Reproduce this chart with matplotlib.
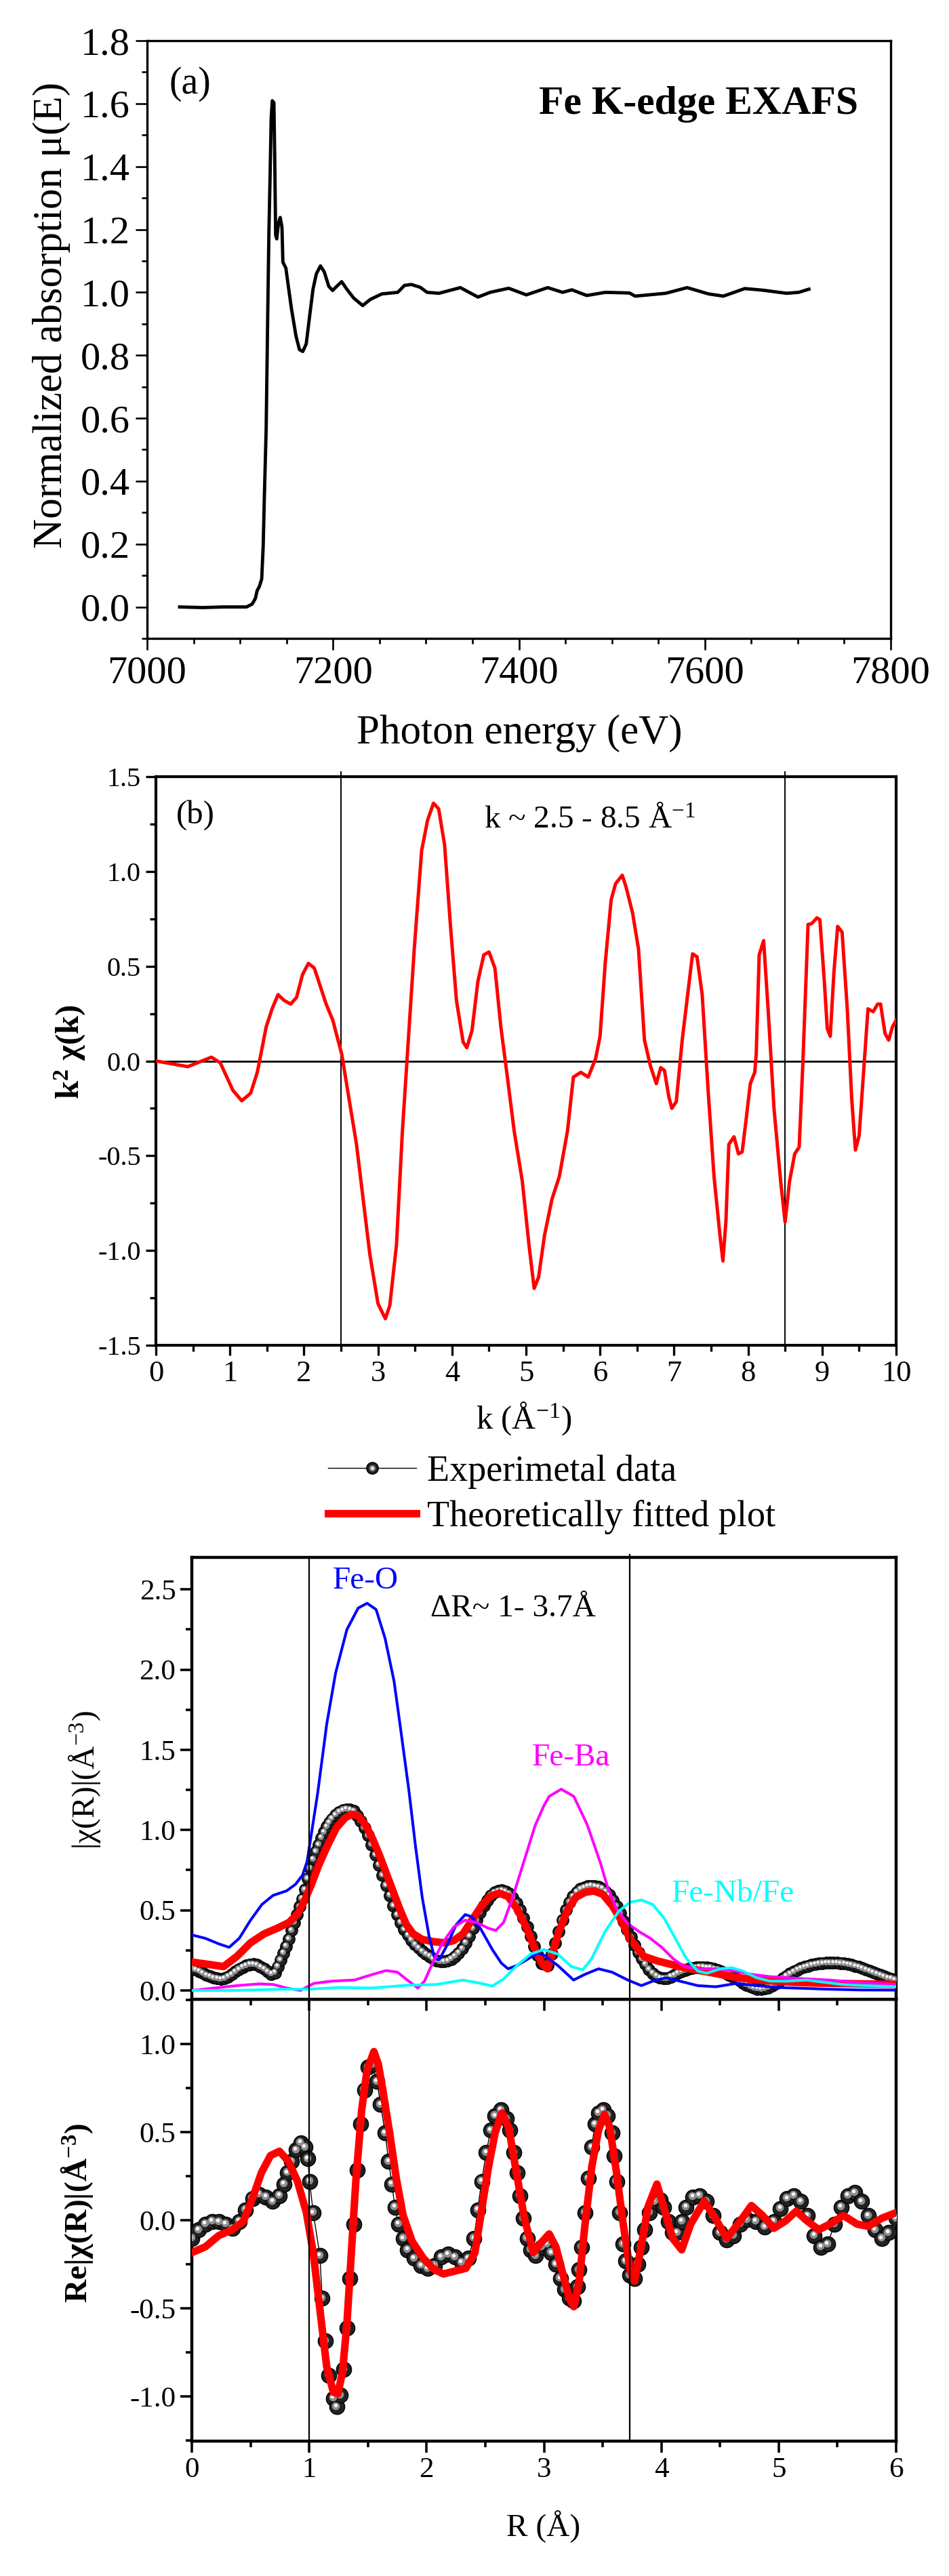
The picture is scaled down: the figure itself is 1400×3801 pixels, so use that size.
import numpy as np
import matplotlib
matplotlib.use('Agg')
from matplotlib import pyplot as plt
from matplotlib import transforms
from matplotlib.ticker import MultipleLocator, FormatStrFormatter
from matplotlib.legend_handler import HandlerTuple

plt.rcParams['font.family'] = ['Liberation Serif', 'DejaVu Serif']
plt.rcParams['mathtext.fontset'] = 'custom'
plt.rcParams['mathtext.rm'] = 'Liberation Serif'
plt.rcParams['mathtext.it'] = 'Liberation Serif:italic'
plt.rcParams['mathtext.bf'] = 'Liberation Serif:bold'
plt.rcParams['axes.unicode_minus'] = False

# ---------------- (a) normalized absorption ----------------
energy = [7035, 7060, 7082, 7107, 7113, 7116.5, 7118.4, 7120.8, 7123.3, 7124.9,
          7126.2, 7128.1, 7129.8, 7131.0, 7132.3, 7133.5, 7134.7, 7136.4, 7137.3,
          7138.3, 7139.5, 7141.3, 7143.2, 7145.1, 7146.1, 7149.3, 7152.4, 7155.3,
          7160.2, 7163.9, 7167.5, 7171.2, 7174.8, 7178.5, 7182.1, 7186.5, 7190.6,
          7195.5, 7199.6, 7204, 7209.3, 7214.9, 7222.2, 7231.9, 7240.4, 7252.6,
          7269.6, 7276.9, 7284.2, 7293.9, 7301.2, 7314, 7337, 7356, 7369, 7389,
          7408, 7431, 7447, 7457, 7473, 7493, 7519, 7525, 7558, 7581, 7604, 7620,
          7643, 7662, 7688, 7701, 7712]
mu = [0.0, -0.002, 0.0, 0.0, 0.009, 0.027, 0.052, 0.065, 0.089, 0.194,
      0.355, 0.565, 0.935, 1.182, 1.368, 1.553, 1.609, 1.603, 1.43,
      1.182, 1.17, 1.22, 1.238, 1.207, 1.096, 1.077, 1.01, 0.948,
      0.861, 0.818, 0.812, 0.836, 0.923, 1.01, 1.059, 1.084, 1.065,
      1.019, 1.006, 1.019, 1.034, 1.01, 0.982, 0.958, 0.978, 0.995,
      1.0, 1.022, 1.025, 1.016, 1.0, 0.997, 1.015, 0.985, 1.0, 1.013,
      0.992, 1.015, 1.0, 1.008, 0.99, 1.0, 0.998, 0.988, 0.997, 1.015, 0.995, 0.988,
      1.012, 1.007, 0.997, 1.0, 1.01]

# ---------------- (b) k^2 chi(k) ----------------
k = [0, 0.43, 0.75, 0.87, 1.04, 1.16, 1.28, 1.37, 1.49, 1.57, 1.65, 1.73, 1.82,
     1.9, 1.98, 2.06, 2.14, 2.22, 2.3, 2.39, 2.51, 2.59, 2.71, 2.8, 2.89, 3.0,
     3.1, 3.16, 3.25, 3.33, 3.41, 3.49, 3.59, 3.67, 3.75, 3.82, 3.9, 3.98, 4.06,
     4.15, 4.2, 4.27, 4.35, 4.43, 4.5, 4.58, 4.66, 4.74, 4.84, 4.95, 5.04, 5.11,
     5.17, 5.25, 5.35, 5.45, 5.56, 5.64, 5.74, 5.84, 5.94, 6.0, 6.07, 6.15, 6.21,
     6.3, 6.35, 6.44, 6.52, 6.6, 6.68, 6.76, 6.82, 6.87, 6.93, 6.97, 7.03, 7.11,
     7.19, 7.25, 7.31, 7.38, 7.46, 7.54, 7.62, 7.66, 7.7, 7.74, 7.81, 7.87, 7.92,
     7.97, 8.03, 8.09, 8.11, 8.15, 8.21, 8.27, 8.35, 8.44, 8.5, 8.56, 8.63, 8.69,
     8.74, 8.81, 8.86, 8.93, 8.97, 9.03, 9.07, 9.11, 9.16, 9.21, 9.27, 9.34, 9.4,
     9.45, 9.5, 9.56, 9.62, 9.69, 9.75, 9.79, 9.85, 9.9, 9.95, 10.0]
k2chi = [0, -0.03, 0.02, -0.01, -0.155, -0.21, -0.17, -0.06, 0.18, 0.275, 0.35,
         0.32, 0.30, 0.335, 0.455, 0.515, 0.49, 0.395, 0.30, 0.215, 0.036, -0.155,
         -0.44, -0.73, -1.02, -1.28, -1.36, -1.29, -0.97, -0.37, 0.11, 0.59, 1.11,
         1.27, 1.36, 1.33, 1.14, 0.71, 0.32, 0.1, 0.07, 0.16, 0.42, 0.56, 0.575,
         0.49, 0.18, -0.06, -0.37, -0.635, -0.97, -1.2, -1.14, -0.92, -0.73, -0.61,
         -0.37, -0.085, -0.06, -0.085, 0.012, 0.13, 0.515, 0.85, 0.935, 0.98, 0.92,
         0.78, 0.59, 0.11, -0.025, -0.12, -0.035, -0.05, -0.19, -0.25, -0.215, 0.11,
         0.37, 0.565, 0.55, 0.35, -0.155, -0.61, -0.92, -1.055, -0.85, -0.44, -0.4,
         -0.49, -0.48, -0.32, -0.12, -0.06, 0.036, 0.56, 0.635, 0.275, -0.25, -0.635,
         -0.85, -0.635, -0.49, -0.455, -0.012, 0.72, 0.725, 0.755, 0.745, 0.42, 0.17,
         0.13, 0.47, 0.71, 0.68, 0.275, -0.2, -0.47, -0.395, -0.06, 0.275, 0.26, 0.3,
         0.3, 0.145, 0.11, 0.18, 0.215]
k_window = [2.5, 8.5]

# ---------------- (c) |chi(R)| ----------------
r_exp = [0.000, 0.031, 0.062, 0.092, 0.123, 0.154, 0.185, 0.216, 0.246, 0.277,
         0.308, 0.339, 0.370, 0.400, 0.431, 0.462, 0.493, 0.523, 0.554, 0.585,
         0.616, 0.647, 0.677, 0.708, 0.731, 0.754, 0.778, 0.801, 0.824, 0.847,
         0.870, 0.893, 0.916, 0.939, 0.962, 0.985, 1.008, 1.032, 1.055, 1.078,
         1.101, 1.124, 1.147, 1.170, 1.193, 1.224, 1.255, 1.286, 1.316, 1.347,
         1.378, 1.409, 1.440, 1.470, 1.501, 1.532, 1.563, 1.594, 1.624, 1.655,
         1.686, 1.717, 1.748, 1.778, 1.809, 1.840, 1.871, 1.901, 1.932, 1.963,
         1.994, 2.025, 2.055, 2.086, 2.117, 2.148, 2.179, 2.209, 2.240, 2.271,
         2.302, 2.333, 2.363, 2.394, 2.425, 2.456, 2.487, 2.517, 2.548, 2.579,
         2.610, 2.641, 2.671, 2.702, 2.733, 2.764, 2.794, 2.825, 2.856, 2.887,
         2.918, 2.948, 2.979,
         3.002, 3.033, 3.064, 3.094, 3.125, 3.156, 3.187, 3.218, 3.248, 3.279,
         3.310, 3.341, 3.372, 3.402, 3.433, 3.464, 3.495, 3.525, 3.556, 3.587,
         3.618, 3.649, 3.679, 3.710, 3.741, 3.772, 3.803, 3.833, 3.864, 3.895,
         3.926, 3.957, 3.987, 4.018, 4.049, 4.080, 4.110, 4.141, 4.172, 4.203,
         4.234, 4.264, 4.295, 4.326, 4.357, 4.388, 4.418, 4.449, 4.480, 4.511,
         4.542, 4.572, 4.603, 4.634, 4.665, 4.696, 4.726, 4.757, 4.788, 4.819,
         4.850, 4.880, 4.911, 4.942, 4.973, 5.004, 5.034, 5.065, 5.096, 5.127,
         5.158, 5.188, 5.219, 5.250, 5.281, 5.311, 5.342, 5.373, 5.404, 5.435,
         5.465, 5.496, 5.527, 5.558, 5.589, 5.619, 5.650, 5.681, 5.712, 5.743,
         5.773, 5.804, 5.835, 5.866, 5.897, 5.927, 5.958, 5.989]
mag_exp = [0.142, 0.131, 0.120, 0.108, 0.097, 0.089, 0.080, 0.075, 0.072, 0.076,
           0.086, 0.100, 0.117, 0.132, 0.145, 0.156, 0.162, 0.163, 0.159, 0.148,
           0.134, 0.117, 0.103, 0.111, 0.149, 0.191, 0.234, 0.276, 0.322, 0.374,
           0.424, 0.473, 0.522, 0.572, 0.628, 0.698, 0.762, 0.818, 0.867, 0.909,
           0.952, 0.987, 1.021, 1.047, 1.071, 1.095, 1.113, 1.125, 1.130, 1.128,
           1.118, 1.092, 1.057, 1.015, 0.966, 0.909, 0.846, 0.783, 0.719, 0.656,
           0.593, 0.529, 0.473, 0.424, 0.381, 0.346, 0.314, 0.286, 0.265, 0.245,
           0.227, 0.213, 0.198, 0.187, 0.182, 0.180, 0.184, 0.196, 0.213, 0.234,
           0.262, 0.297, 0.339, 0.389, 0.438, 0.487, 0.529, 0.564, 0.593, 0.611,
           0.621, 0.624, 0.618, 0.604, 0.579, 0.543, 0.501, 0.452, 0.396, 0.339,
           0.276, 0.220, 0.170,
           0.165, 0.158, 0.227, 0.297, 0.367, 0.438, 0.501, 0.550, 0.586, 0.614,
           0.632, 0.642, 0.649, 0.652, 0.650, 0.645, 0.635, 0.618, 0.595, 0.564,
           0.525, 0.480, 0.431, 0.381, 0.332, 0.283, 0.238, 0.198, 0.163, 0.132,
           0.107, 0.090, 0.079, 0.075, 0.076, 0.086, 0.097, 0.108, 0.118, 0.127,
           0.134, 0.139, 0.144, 0.145, 0.145, 0.144, 0.141, 0.135, 0.128, 0.120,
           0.110, 0.099, 0.087, 0.075, 0.062, 0.048, 0.035, 0.024, 0.015, 0.010,
           0.008, 0.011, 0.018, 0.030, 0.042, 0.058, 0.075, 0.090, 0.104, 0.117,
           0.128, 0.138, 0.146, 0.153, 0.159, 0.163, 0.168, 0.170, 0.172, 0.173,
           0.173, 0.172, 0.170, 0.168, 0.163, 0.159, 0.153, 0.146, 0.138, 0.130,
           0.121, 0.113, 0.104, 0.096, 0.087, 0.080, 0.073, 0.068]
r_fit = [0, 0.135, 0.27, 0.385, 0.5, 0.616, 0.731, 0.828, 0.905, 0.962, 1.02, 1.078,
         1.155, 1.232, 1.309, 1.366, 1.424, 1.482, 1.54, 1.597, 1.655, 1.713, 1.771,
         1.828, 1.886, 1.963, 2.059, 2.155, 2.232, 2.31, 2.386, 2.463, 2.54, 2.617,
         2.694, 2.771, 2.848, 2.925, 2.99, 3.03, 3.08, 3.125, 3.2, 3.27, 3.35, 3.425,
         3.5, 3.58, 3.656, 3.73, 3.85, 3.964, 4.08, 4.195, 4.35, 4.503, 4.657, 4.811,
         4.965, 5.119, 5.31, 5.504, 5.696, 6.0]
mag_fit = [0.177, 0.163, 0.149, 0.213, 0.297, 0.353, 0.389, 0.424, 0.48, 0.564, 0.663,
           0.776, 0.902, 1.015, 1.078, 1.099, 1.085, 1.029, 0.945, 0.846, 0.733, 0.621,
           0.508, 0.41, 0.353, 0.318, 0.304, 0.297, 0.311, 0.353, 0.438, 0.522, 0.586,
           0.607, 0.586, 0.508, 0.396, 0.255, 0.16, 0.135, 0.25, 0.36, 0.5, 0.58,
           0.612, 0.62, 0.6, 0.53, 0.44, 0.325, 0.213, 0.184, 0.163, 0.142, 0.121,
           0.1, 0.079, 0.065, 0.058, 0.051, 0.046, 0.044, 0.041, 0.037]
r_feo = [0, 0.115, 0.231, 0.318, 0.404, 0.5, 0.597, 0.693, 0.808, 0.885, 0.943, 0.982,
         1.0, 1.072, 1.149, 1.225, 1.321, 1.417, 1.493, 1.57, 1.646, 1.723, 1.77,
         1.848, 1.905, 1.963, 2.021, 2.069, 2.107, 2.175, 2.252, 2.329, 2.386, 2.463,
         2.56, 2.637, 2.694, 2.771, 2.868, 2.945, 3.0, 3.117, 3.252, 3.348, 3.464,
         3.58, 3.714, 3.83, 3.926, 4.04, 4.157, 4.31, 4.465, 4.638, 4.811, 5.003,
         5.215, 5.408, 5.696, 6.0]
mag_feo = [0.346, 0.325, 0.29, 0.269, 0.325, 0.438, 0.536, 0.593, 0.621, 0.663, 0.719,
           0.804, 0.888, 1.23, 1.66, 1.98, 2.25, 2.384, 2.414, 2.375, 2.196, 1.927,
           1.677, 1.254, 0.902, 0.579, 0.339, 0.198, 0.191, 0.283, 0.41, 0.473, 0.459,
           0.381, 0.255, 0.17, 0.135, 0.156, 0.198, 0.234, 0.22, 0.156, 0.065, 0.1,
           0.135, 0.114, 0.065, 0.03, 0.058, 0.079, 0.058, 0.03, 0.023, 0.044, 0.03,
           0.018, 0.013, 0.008, 0.003, 0.002]
r_feba = [0, 0.192, 0.385, 0.577, 0.693, 0.808, 0.924, 1.039, 1.193, 1.386, 1.54,
          1.655, 1.751, 1.848, 1.925, 1.982, 2.059, 2.136, 2.232, 2.329, 2.425, 2.521,
          2.589, 2.656, 2.733, 2.829, 2.925, 3.002, 3.044, 3.147, 3.254, 3.369, 3.483,
          3.54, 3.618, 3.714, 3.81, 3.906, 4.003, 4.1, 4.195, 4.31, 4.465, 4.619,
          4.773, 4.927, 5.08, 5.234, 5.427, 5.658, 6.0]
mag_feba = [0.0, 0.015, 0.03, 0.041, 0.037, 0.015, 0.0, 0.044, 0.058, 0.065, 0.1,
            0.124, 0.114, 0.058, 0.015, 0.058, 0.184, 0.297, 0.396, 0.438, 0.424,
            0.389, 0.374, 0.424, 0.579, 0.804, 1.029, 1.156, 1.21, 1.255, 1.21, 1.032,
            0.79, 0.649, 0.508, 0.417, 0.367, 0.325, 0.269, 0.198, 0.149, 0.135,
            0.135, 0.121, 0.1, 0.086, 0.079, 0.072, 0.065, 0.051, 0.037]
r_fenb = [0, 0.385, 0.77, 1.0, 1.25, 1.54, 1.828, 2.079, 2.31, 2.463, 2.56, 2.656,
          2.771, 2.887, 3.0, 3.117, 3.233, 3.33, 3.406, 3.52, 3.637, 3.733, 3.83,
          3.926, 4.022, 4.118, 4.214, 4.31, 4.388, 4.503, 4.6, 4.696, 4.811, 4.927,
          5.08, 5.234, 5.388, 5.542, 5.735, 6.0]
mag_fenb = [0.0, 0.0, 0.008, 0.008, 0.018, 0.015, 0.032, 0.037, 0.065, 0.044, 0.027,
            0.072, 0.156, 0.227, 0.255, 0.227, 0.149, 0.128, 0.198, 0.367, 0.494,
            0.55, 0.564, 0.536, 0.452, 0.325, 0.198, 0.121, 0.107, 0.135, 0.142,
            0.121, 0.079, 0.058, 0.058, 0.065, 0.051, 0.037, 0.03, 0.023]
r_window = [1.0, 3.73]

# ---------------- (d) Re chi(R) ----------------
r_re_exp = [0, 0.057, 0.115, 0.172, 0.23, 0.287, 0.345, 0.402, 0.459, 0.517, 0.574,
            0.632, 0.689, 0.747, 0.785, 0.812, 0.85, 0.888, 0.927, 0.965, 0.988, 1.003,
            1.034, 1.091, 1.11, 1.137, 1.168, 1.206, 1.233, 1.263, 1.294, 1.325, 1.348,
            1.378, 1.409, 1.44, 1.47, 1.501, 1.539, 1.577, 1.608, 1.646, 1.677, 1.704,
            1.73, 1.761, 1.8, 1.838, 1.895, 1.953, 2.01, 2.067, 2.125, 2.182, 2.24,
            2.297, 2.355, 2.404, 2.435, 2.469, 2.508, 2.546, 2.584, 2.634, 2.68, 2.711,
            2.741, 2.772, 2.795, 2.825, 2.856, 2.89, 2.929, 2.979, 3.025, 3.063, 3.101,
            3.139, 3.178, 3.216, 3.254, 3.285, 3.3, 3.323, 3.35, 3.377, 3.407, 3.434,
            3.465, 3.503, 3.541, 3.58, 3.599, 3.618, 3.645, 3.675, 3.694, 3.733, 3.771,
            3.802, 3.828, 3.859, 3.897, 3.943, 3.989, 4.02, 4.058, 4.096, 4.135, 4.173,
            4.211, 4.269, 4.326, 4.384, 4.441, 4.498, 4.556, 4.613, 4.671, 4.728, 4.805,
            4.881, 4.958, 5.015, 5.073, 5.13, 5.188, 5.245, 5.303, 5.36, 5.417, 5.475,
            5.532, 5.59, 5.647, 5.704, 5.762, 5.819, 5.877, 5.934, 6.0]
re_exp = [-0.103, -0.054, -0.022, -0.006, -0.009, -0.022, -0.046, -0.006, 0.059, 0.124,
          0.148, 0.132, 0.108, 0.14, 0.205, 0.27, 0.334, 0.399, 0.44, 0.415, 0.35, 0.221,
          0.043, -0.2, -0.443, -0.686, -0.88, -1.01, -1.058, -0.993, -0.847, -0.613,
          -0.33, -0.022, 0.286, 0.545, 0.739, 0.868, 0.885, 0.787, 0.658, 0.496, 0.334,
          0.205, 0.075, -0.022, -0.103, -0.168, -0.216, -0.257, -0.273, -0.257, -0.208,
          -0.192, -0.208, -0.24, -0.216, -0.103, 0.059, 0.221, 0.383, 0.512, 0.593,
          0.626, 0.577, 0.512, 0.383, 0.27, 0.14, 0.011, -0.103, -0.168, -0.2, -0.152,
          -0.135, -0.184, -0.249, -0.33, -0.394, -0.443, -0.459, -0.378, -0.281, -0.152,
          0.043, 0.237, 0.415, 0.545, 0.609, 0.626, 0.593, 0.496, 0.367, 0.221, 0.043,
          -0.135, -0.232, -0.313, -0.33, -0.249, -0.152, -0.054, 0.043, 0.108, 0.116,
          0.075, -0.006, -0.071, -0.071, -0.006, 0.075, 0.132, 0.14, 0.108, 0.027,
          -0.071, -0.111, -0.087, -0.022, 0.002, -0.006, -0.038, -0.006, 0.067, 0.124,
          0.14, 0.108, 0.027, -0.087, -0.152, -0.135, -0.022, 0.075, 0.14, 0.157, 0.108,
          0.027, -0.054, -0.103, -0.071, 0.011]
r_re_fit = [0, 0.115, 0.23, 0.345, 0.44, 0.517, 0.593, 0.67, 0.747, 0.823, 0.9, 0.976,
            1.034, 1.091, 1.149, 1.206, 1.244, 1.283, 1.321, 1.359, 1.397, 1.447, 1.493,
            1.551, 1.589, 1.627, 1.685, 1.742, 1.8, 1.876, 1.972, 2.067, 2.144, 2.24,
            2.335, 2.412, 2.469, 2.527, 2.584, 2.642, 2.699, 2.757, 2.833, 2.91, 2.967,
            3.044, 3.101, 3.158, 3.216, 3.254, 3.3, 3.35, 3.407, 3.465, 3.515, 3.56,
            3.618, 3.675, 3.733, 3.771, 3.828, 3.886, 3.962, 4.02, 4.096, 4.173, 4.25,
            4.365, 4.46, 4.556, 4.671, 4.767, 4.862, 4.958, 5.054, 5.149, 5.245, 5.341,
            5.436, 5.551, 5.666, 5.762, 5.877, 6.0]
re_fit = [-0.184, -0.151, -0.087, -0.054, -0.006, 0.124, 0.27, 0.367, 0.391, 0.334,
          0.221, 0.043, -0.184, -0.507, -0.831, -0.977, -0.985, -0.864, -0.589, -0.184,
          0.221, 0.626, 0.852, 0.957, 0.885, 0.739, 0.496, 0.237, 0.027, -0.119, -0.216,
          -0.281, -0.305, -0.289, -0.273, -0.184, 0.059, 0.302, 0.496, 0.609, 0.528,
          0.302, 0.011, -0.184, -0.135, -0.078, -0.151, -0.297, -0.443, -0.491, -0.346,
          -0.022, 0.302, 0.512, 0.601, 0.528, 0.27, -0.022, -0.281, -0.346, -0.152,
          0.075, 0.205, 0.075, -0.103, -0.168, -0.022, 0.108, 0.011, -0.103, -0.006,
          0.083, 0.027, -0.046, -0.006, 0.051, -0.006, -0.054, -0.022, 0.027, -0.022,
          -0.035, 0.011, 0.043]

W, H = 1400, 3801


def box(x0, y0, x1, y1):
    return [x0 / W, 1 - y1 / H, (x1 - x0) / W, (y1 - y0) / H]


def ftext(x, y, s, **kw):
    fig.text(x / W, 1 - y / H, s, ha='center', va='center', **kw)


def style(ax, lw, maj, mino, size, pad):
    for sp in ax.spines.values():
        sp.set_linewidth(lw)
    ax.tick_params(which='both', direction='out', top=False, right=False,
                   width=lw * 0.8, labelsize=size, pad=pad)
    ax.tick_params(which='major', length=maj)
    ax.tick_params(which='minor', length=mino)


def balls(ax, x, y, ms):
    # shaded sphere markers: dark ball, grey body, white highlight
    base, = ax.plot(x, y, '-', color='black', lw=1, marker='o', ms=ms,
                    mfc='#222222', mec='black', mew=1, zorder=4)
    t1 = transforms.offset_copy(ax.transData, fig=fig, x=-0.8, y=1.0, units='points')
    mid, = ax.plot(x, y, ls='none', marker='o', ms=ms * 0.52, mfc='#8f8f8f', mew=0,
                   transform=t1, zorder=5)
    t2 = transforms.offset_copy(ax.transData, fig=fig, x=-1.2, y=1.6, units='points')
    hl, = ax.plot(x, y, ls='none', marker='o', ms=ms * 0.24, mfc='white', mew=0,
                  transform=t2, zorder=6)
    return base, mid, hl


fig = plt.figure(figsize=(W / 100, H / 100), dpi=100)

# ---- panel (a)
ax_a = fig.add_axes(box(217, 60, 1314, 942))
ax_a.plot(energy, mu, color='black', lw=3.5)
ax_a.set_xlim(7000, 7800)
ax_a.set_ylim(-0.1, 1.8)
ax_a.xaxis.set_major_locator(MultipleLocator(200))
ax_a.xaxis.set_minor_locator(MultipleLocator(50))
ax_a.yaxis.set_major_locator(MultipleLocator(0.2))
ax_a.yaxis.set_minor_locator(MultipleLocator(0.1))
ax_a.yaxis.set_major_formatter(FormatStrFormatter('%.1f'))
style(ax_a, 2.4, 12, 6, 42, 6)
ax_a.text(0.03, 0.928, '(a)', transform=ax_a.transAxes, ha='left', va='center', fontsize=40)
ax_a.text(0.956, 0.893, 'Fe K-edge EXAFS', transform=ax_a.transAxes, ha='right',
          va='center', fontsize=43, fontweight='bold')
ftext(76, 465, 'Normalized absorption μ(E)', fontsize=44, rotation=90)
ftext(766, 1082, 'Photon energy (eV)', fontsize=44)

# ---- panel (b)
ax_b = fig.add_axes(box(230, 1146, 1322, 1985))
ax_b.plot(k, k2chi, color='#ff0000', lw=3.6, zorder=3)
ax_b.axhline(0, color='black', lw=2)
for kv in k_window:
    ax_b.axvline(kv, ymax=1.008, color='black', lw=1.4, clip_on=False)
ax_b.set_xlim(0, 10)
ax_b.set_ylim(-1.5, 1.5)
ax_b.xaxis.set_major_locator(MultipleLocator(1))
ax_b.xaxis.set_minor_locator(MultipleLocator(0.5))
ax_b.yaxis.set_major_locator(MultipleLocator(0.5))
ax_b.yaxis.set_minor_locator(MultipleLocator(0.25))
ax_b.yaxis.set_major_formatter(FormatStrFormatter('%.1f'))
style(ax_b, 3.0, 11, 6.5, 29, 5)
ax_b.tick_params(axis='x', labelsize=32)
ax_b.text(0.027, 0.933, '(b)', transform=ax_b.transAxes, ha='left', va='center', fontsize=35)
ax_b.text(0.443, 0.924, 'k ~ 2.5 - 8.5 Å$^{-1}$', transform=ax_b.transAxes, ha='left',
          va='center', fontsize=34)
ftext(103, 1552, 'k$^{\\mathbf{2}}$ χ(k)', fontsize=35, fontweight='bold', rotation=90)
ftext(773, 2093, 'k (Å$^{-1}$)', fontsize=35)

# ---- panel (c)
ax_c = fig.add_axes(box(283, 2298, 1322, 2950))
ax_c.set_zorder(3)
h_exp = balls(ax_c, r_exp, mag_exp, 12.5)
h_fit, = ax_c.plot(r_fit, mag_fit, color='#ff0000', lw=8, zorder=7)
ax_c.plot(r_feo, mag_feo, color='#0000ff', lw=2.9, zorder=8)
ax_c.plot(r_feba, mag_feba, color='#ff00ff', lw=2.9, zorder=8)
ax_c.plot(r_fenb, mag_fenb, color='#00ffff', lw=2.9, zorder=8)
ax_c.axvline(r_window[0], color='black', lw=1.6, zorder=9)
ax_c.axvline(r_window[1], ymax=1.006, color='black', lw=1.6, zorder=9, clip_on=False)
ax_c.set_xlim(0, 6)
ax_c.set_ylim(-0.055, 2.7)
ax_c.xaxis.set_major_locator(MultipleLocator(1))
ax_c.xaxis.set_minor_locator(MultipleLocator(0.5))
ax_c.yaxis.set_major_locator(MultipleLocator(0.5))
ax_c.yaxis.set_minor_locator(MultipleLocator(0.25))
ax_c.yaxis.set_major_formatter(FormatStrFormatter('%.1f'))
style(ax_c, 3.2, 12, 6.5, 31, 5)
ax_c.tick_params(axis='x', labelbottom=False)
ax_c.text(1.48, 2.555, 'Fe-O', color='#0000ff', ha='center', va='center', fontsize=34)
ax_c.text(2.03, 2.38, 'ΔR~ 1- 3.7Å', color='black', ha='left', va='center', fontsize=34)
ax_c.text(3.23, 1.45, 'Fe-Ba', color='#ff00ff', ha='center', va='center', fontsize=34)
ax_c.text(4.61, 0.60, 'Fe-Nb/Fe', color='#00ffff', ha='center', va='center', fontsize=34)
ax_c.legend(handles=[h_exp, h_fit], labels=['Experimetal data', 'Theoretically fitted plot'],
            handler_map={tuple: HandlerTuple(ndivide=1, pad=0)}, loc='lower left',
            bbox_to_anchor=(0.1935, 1.052), frameon=False, fontsize=39, numpoints=1,
            handlelength=2.4, handletextpad=0.3, labelspacing=0.3,
            borderpad=0, borderaxespad=0)
ftext(125, 2626, '|χ(R)|(Å$^{-3}$)', fontsize=34, rotation=90)

# ---- panel (d)
ax_d = fig.add_axes(box(283, 2950, 1322, 3602))
ax_d.set_zorder(1)
balls(ax_d, r_re_exp, re_exp, 16)
ax_d.plot(r_re_fit, re_fit, color='#ff0000', lw=8, zorder=7)
for rv in r_window:
    ax_d.axvline(rv, color='black', lw=1.6, zorder=9)
ax_d.set_xlim(0, 6)
ax_d.set_ylim(-1.254, 1.254)
ax_d.xaxis.set_major_locator(MultipleLocator(1))
ax_d.xaxis.set_minor_locator(MultipleLocator(0.5))
ax_d.yaxis.set_major_locator(MultipleLocator(0.5))
ax_d.yaxis.set_minor_locator(MultipleLocator(0.25))
ax_d.yaxis.set_major_formatter(FormatStrFormatter('%.1f'))
style(ax_d, 3.2, 12, 6.5, 31, 5)
ftext(114, 3265, 'Re|χ(R)|(Å$^{\\mathbf{-3}}$)', fontsize=34, fontweight='bold', rotation=90)
ftext(802, 3727, 'R (Å)', fontsize=34)

fig.savefig('out.png', dpi=100)
